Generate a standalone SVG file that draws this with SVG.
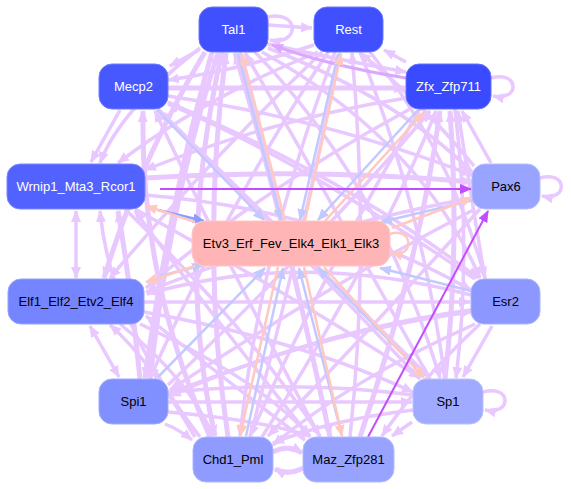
<svg xmlns="http://www.w3.org/2000/svg" width="571" height="489" viewBox="0 0 571 489">
<defs>
<style>
.e{fill:none;stroke:#e8c8ff;stroke-width:3.5}
.w{stroke-width:5}
.d{fill:none;stroke:#dca8ff;stroke-width:3}
.b{fill:none;stroke:#c3c9ff;stroke-width:2.5}
.s{fill:none;stroke:#ffc8c0;stroke-width:2.5}
.p{fill:none;stroke:#c24cff;stroke-width:2}
.mb{fill:none;stroke:#8a9cff;stroke-width:2.5}
.n text{font-family:"Liberation Sans",Arial,sans-serif;font-size:13px;text-anchor:middle;dominant-baseline:central}
.wt{fill:#ffffff}
.bt{fill:#000000}
</style>
<marker id="ae" viewBox="0 0 12 10" refX="11" refY="5" markerWidth="12" markerHeight="10" markerUnits="userSpaceOnUse" orient="auto-start-reverse"><path d="M0,0L12,5L0,10z" fill="#e8c8ff"/></marker>
<marker id="ad" viewBox="0 0 12 10" refX="11" refY="5" markerWidth="12" markerHeight="10" markerUnits="userSpaceOnUse" orient="auto"><path d="M0,0L12,5L0,10z" fill="#dca8ff"/></marker>
<marker id="ab" viewBox="0 0 12 10" refX="11" refY="5" markerWidth="12" markerHeight="10" markerUnits="userSpaceOnUse" orient="auto"><path d="M0,0L12,5L0,10z" fill="#c3c9ff"/></marker>
<marker id="as" viewBox="0 0 12 10" refX="11" refY="5" markerWidth="12" markerHeight="10" markerUnits="userSpaceOnUse" orient="auto"><path d="M0,0L12,5L0,10z" fill="#ffc8c0"/></marker>
<marker id="ap" viewBox="0 0 12 10" refX="11" refY="5" markerWidth="12" markerHeight="10" markerUnits="userSpaceOnUse" orient="auto"><path d="M0,0L12,5L0,10z" fill="#c24cff"/></marker>
<marker id="am" viewBox="0 0 12 10" refX="11" refY="5" markerWidth="12" markerHeight="10" markerUnits="userSpaceOnUse" orient="auto"><path d="M0,0L12,5L0,10z" fill="#8a9cff"/></marker>
</defs>
<rect width="571" height="489" fill="#ffffff"/>
<g id="edges">
<g marker-end="url(#ae)">
<path class="e" d="M199,50L170,66"/>
<path class="e" d="M120,110L91,162"/>
<path class="e" d="M76,211L76,278" marker-start="url(#ae)"/>
<path class="e" d="M90,326L119,377" marker-start="url(#ae)"/>
<path class="e" d="M165,424Q180,430 192,440"/>
<path class="e w" d="M273,452Q288,444 302,453"/>
<path class="e w" d="M303,468Q288,476 275,469"/>
<path class="e" d="M412,422L392,436"/>
<path class="e" d="M492,326L463,377"/>
<path class="e" d="M491,163L462,111"/>
<path class="e" d="M406,62L384,50"/>
<path class="e" d="M268,25L312,28"/>
<path class="e" d="M268,17C300,10 300,46 270,40"/>
<path class="e" d="M491,78C520,70 520,102 493,96"/>
<path class="e" d="M540,178C568,170 568,202 542,196"/>
<path class="e" d="M483,392C512,384 512,416 485,410"/>
<path class="e" d="M268,44Q340,60 406,72"/>
<path class="e" d="M200,48Q120,110 100,163"/>
<path class="e w" d="M212,52Q170,200 145,378"/>
<path class="e w" d="M205,52Q140,160 104,278"/>
<path class="e w" d="M222,52Q175,260 215,436"/>
<path class="e w" d="M228,437Q200,250 226,53"/>
<path class="e" d="M240,52Q290,250 330,436"/>
<path class="e" d="M255,52Q380,180 440,378"/>
<path class="e" d="M262,52Q420,140 480,278"/>
<path class="e" d="M268,48Q400,100 472,172"/>
<path class="e" d="M318,52Q200,100 118,163"/>
<path class="e" d="M314,45Q240,70 168,80"/>
<path class="e" d="M322,52Q200,170 110,278"/>
<path class="e" d="M328,52Q230,200 150,378"/>
<path class="e" d="M360,52Q420,200 445,378"/>
<path class="e" d="M370,52Q450,150 485,278"/>
<path class="e" d="M474,166Q420,100 360,53"/>
<path class="e" d="M335,52Q260,250 240,436"/>
<path class="e w" d="M168,88L405,88"/>
<path class="e" d="M168,96Q330,120 472,175"/>
<path class="e" d="M168,102Q350,180 478,278"/>
<path class="e" d="M158,109Q300,250 430,378"/>
<path class="e w" d="M210,437Q140,280 143,111"/>
<path class="e" d="M320,437Q220,250 155,111"/>
<path class="e" d="M420,109Q320,280 250,436"/>
<path class="e w" d="M360,437Q420,260 440,111"/>
<path class="e w" d="M445,379Q460,250 450,111"/>
<path class="e" d="M455,109Q472,250 456,378"/>
<path class="e" d="M262,437Q380,250 436,111"/>
<path class="e" d="M168,385Q330,230 430,111"/>
<path class="e" d="M406,98Q270,120 145,170"/>
<path class="e" d="M410,109Q260,190 146,288"/>
<path class="e" d="M485,279Q470,190 458,111"/>
<path class="e w" d="M145,178Q310,168 472,182"/>
<path class="e" d="M145,195Q330,210 471,290"/>
<path class="e" d="M135,209Q300,300 420,378"/>
<path class="e" d="M125,209Q250,330 320,436"/>
<path class="e w" d="M140,379Q130,280 118,211"/>
<path class="e" d="M200,437Q110,320 100,211"/>
<path class="e" d="M472,198Q300,230 146,292"/>
<path class="e" d="M475,209Q320,290 170,390"/>
<path class="e" d="M480,209Q370,330 268,436"/>
<path class="e" d="M144,302L470,302"/>
<path class="e" d="M144,312Q300,340 413,392"/>
<path class="e" d="M140,324Q260,380 310,436"/>
<path class="e" d="M471,295Q300,250 147,294"/>
<path class="e" d="M120,324Q190,380 213,436"/>
<path class="e" d="M471,310Q320,330 170,396"/>
<path class="e" d="M475,279Q300,160 168,104"/>
<path class="e" d="M475,324Q350,380 273,445"/>
<path class="e" d="M480,324Q420,380 382,436"/>
<path class="e" d="M168,402L412,402"/>
<path class="e" d="M168,412Q260,420 310,436"/>
<path class="e" d="M413,395Q300,380 170,392"/>
<path class="e" d="M168,394Q330,330 471,312"/>
<path class="e" d="M413,410Q330,420 273,443"/>
<path class="e" d="M430,379Q330,200 245,53"/>
<path class="e w" d="M330,437Q280,200 235,53"/>
<path class="e w" d="M150,379Q170,200 218,53"/>
<path class="e" d="M350,437Q370,250 352,53"/>
<path class="e" d="M250,437Q300,250 340,53"/>
<path class="e" d="M420,379Q260,210 160,111"/>
<path class="e" d="M310,437Q200,300 135,211"/>
<path class="e" d="M305,440Q200,360 146,316"/>
<path class="e" d="M195,437Q150,360 110,325"/>
</g>
<path class="d" d="M406,78Q330,66 272,45" marker-end="url(#ad)"/>
<g marker-end="url(#ab)">
<path class="b" d="M157,110L264,220"/>
<path class="b" d="M238,54L281,220"/>
<path class="b" d="M338,54L300,220"/>
<path class="b" d="M418,110L318,220"/>
<path class="b" d="M474,200L381,222"/>
<path class="b" d="M160,276L203,265"/>
<path class="b" d="M158,377L265,268"/>
<path class="b" d="M246,436L283,268"/>
<path class="b" d="M342,436L299,268"/>
<path class="b" d="M416,368L318,268"/>
<path class="b" d="M471,291L380,268"/>
</g>
<path class="mb" d="M158,210L204,221" marker-end="url(#am)"/>
<g marker-end="url(#as)">
<path class="s" d="M285,221L242,54"/>
<path class="s" d="M305,221L341,54"/>
<path class="s" d="M325,221L424,112"/>
<path class="s" d="M392,228L472,198"/>
<path class="s" d="M195,222L146,206"/>
<path class="s" d="M195,266L146,282"/>
<path class="s" d="M278,267L240,436"/>
<path class="s" d="M304,267L342,436"/>
<path class="s" d="M324,267L424,378"/>
<path class="s" d="M390,234C414,226 414,260 392,252"/>
</g>
<g marker-end="url(#ap)">
<path class="p" d="M160,189L471,189"/>
<path class="p" d="M368,437L488,211"/>
</g>
</g>
<g id="n-tal1" class="n"><rect x="199" y="7" width="69" height="45" rx="13" fill="#4150ff" stroke="#6a76ff"/><text class="wt" x="233.5" y="29.5">Tal1</text></g>
<g id="n-rest" class="n"><rect x="314" y="7" width="69" height="45" rx="13" fill="#4150ff" stroke="#6a76ff"/><text class="wt" x="348.5" y="29.5">Rest</text></g>
<g id="n-mecp2" class="n"><rect x="99" y="64" width="69" height="45" rx="13" fill="#4858ff" stroke="#707cff"/><text class="wt" x="133.5" y="86.5">Mecp2</text></g>
<g id="n-zfx" class="n"><rect x="406" y="64" width="85" height="45" rx="13" fill="#3a4aff" stroke="#6472ff"/><text class="wt" x="448.5" y="86.5">Zfx_Zfp711</text></g>
<g id="n-wrnip1" class="n"><rect x="7" y="164" width="138" height="45" rx="13" fill="#5262ff" stroke="#7a86ff"/><text class="wt" x="76" y="186.5">Wrnip1_Mta3_Rcor1</text></g>
<g id="n-pax6" class="n"><rect x="472" y="164" width="68" height="45" rx="13" fill="#98a4ff" stroke="#b4bcff"/><text class="bt" x="506" y="186.5">Pax6</text></g>
<g id="n-etv3" class="n"><rect x="192" y="221" width="198" height="45" rx="13" fill="#ffb5b5" stroke="#ffc8c8"/><text class="bt" x="291" y="243.5">Etv3_Erf_Fev_Elk4_Elk1_Elk3</text></g>
<g id="n-elf1" class="n"><rect x="8" y="279" width="136" height="45" rx="13" fill="#7585ff" stroke="#96a2ff"/><text class="bt" x="76" y="301.5">Elf1_Elf2_Etv2_Elf4</text></g>
<g id="n-esr2" class="n"><rect x="471" y="279" width="69" height="45" rx="13" fill="#8c98ff" stroke="#aab3ff"/><text class="bt" x="505.5" y="301.5">Esr2</text></g>
<g id="n-spi1" class="n"><rect x="99" y="379" width="69" height="45" rx="13" fill="#8090ff" stroke="#a0abff"/><text class="bt" x="133.5" y="401.5">Spi1</text></g>
<g id="n-sp1" class="n"><rect x="413" y="379" width="70" height="45" rx="13" fill="#a0aaff" stroke="#bac1ff"/><text class="bt" x="448" y="401.5">Sp1</text></g>
<g id="n-chd1" class="n"><rect x="193" y="437" width="80" height="45" rx="13" fill="#8f9bff" stroke="#adb6ff"/><text class="bt" x="233" y="459.5">Chd1_Pml</text></g>
<g id="n-maz" class="n"><rect x="303" y="437" width="91" height="45" rx="13" fill="#98a3ff" stroke="#b4bcff"/><text class="bt" x="348.5" y="459.5">Maz_Zfp281</text></g>
</svg>
